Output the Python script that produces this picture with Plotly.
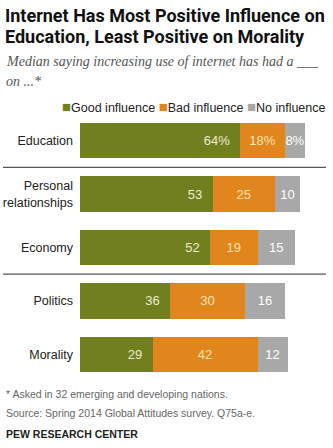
import plotly.graph_objects as go

categories = ["Education", "Personal<br>relationships", "Economy", "Politics", "Morality"]
good = [64, 53, 52, 36, 29]
bad = [18, 25, 19, 30, 42]
none_ = [8, 10, 15, 16, 12]
series_names = ["Good influence", "Bad influence", "No influence"]
colors = ["#727f1f", "#e0861c", "#a8a8a8"]
text_colors = ["#ecebcf", "#fde3b5", "#ffffff"]

W, H = 333, 448
ML, MR, MT, MB = 80, 3, 114, 67
PW, PH = W - ML - MR, H - MT - MB

def px2x(px):
    return (px - ML) / PW

def px2y(py):
    return (H - MB - py) / PH

def labels(vals, pad=""):
    return [(f"{v}%" if i == 0 else f"{v}") + pad for i, v in enumerate(vals)]

fig = go.Figure()
for name, vals, col, tcol, anchor, pad in zip(series_names, [good, bad, none_], colors, text_colors,
                                              ["end", "middle", "middle"], ["\u00a0\u00a0", "", ""]):
    fig.add_trace(go.Bar(
        y=categories, x=vals, name=name, orientation="h",
        marker=dict(color=col, line=dict(width=0)),
        text=labels(vals, pad), textposition="inside", insidetextanchor=anchor,
        constraintext="none",
        textfont=dict(family="Liberation Sans, Arial", size=13, color=tcol),
        textangle=0, hoverinfo="skip", cliponaxis=False,
    ))

shapes = []
for yv in [0.5, 2.5]:
    shapes.append(dict(type="line", xref="paper", yref="y", x0=px2x(3), x1=px2x(326),
                       y0=yv, y1=yv, line=dict(color="#555555", width=1.2)))

annotations = []
# title
for txt, py in [("Internet Has Most Positive Influence on", 15), ("Education, Least Positive on Morality", 37)]:
    annotations.append(dict(xref="paper", yref="paper", x=px2x(3), y=px2y(py), xanchor="left", yanchor="middle",
                            align="left", showarrow=False, text=f"<b>{txt}</b>",
                            font=dict(family="Roboto, Liberation Sans", size=18, color="#111111")))
for txt, py in [("Median saying increasing use of internet has had a ___", 62), ("on ...*", 82)]:
    annotations.append(dict(xref="paper", yref="paper", x=px2x(4), y=px2y(py), xanchor="left", yanchor="middle",
                            align="left", showarrow=False, text=f"<i>{txt}</i>",
                            font=dict(family="Liberation Serif", size=14, color="#555555")))
# legend
leg = " ".join(f"<span style='color:{c};font-size:15px'>■</span>{n}" for c, n in zip(colors, series_names))
annotations.append(dict(xref="paper", yref="paper", x=px2x(328), y=px2y(107), xanchor="right", yanchor="middle",
                        showarrow=False, text=leg,
                        font=dict(family="Liberation Sans, Arial", size=12.5, color="#222222")))
# footer
annotations.append(dict(xref="paper", yref="paper", x=px2x(4), y=px2y(394), xanchor="left", yanchor="middle",
                        showarrow=False, text="* Asked in 32 emerging and developing nations.",
                        font=dict(family="Liberation Sans, Arial", size=10.5, color="#666666")))
annotations.append(dict(xref="paper", yref="paper", x=px2x(4), y=px2y(413), xanchor="left", yanchor="middle",
                        showarrow=False, text="Source: Spring 2014 Global Attitudes survey. Q75a-e.",
                        font=dict(family="Liberation Sans, Arial", size=10.5, color="#666666")))
annotations.append(dict(xref="paper", yref="paper", x=px2x(4), y=px2y(434), xanchor="left", yanchor="middle",
                        showarrow=False, text="<b>PEW RESEARCH CENTER</b>",
                        font=dict(family="Liberation Sans, Arial", size=10.5, color="#222222")))

fig.update_layout(
    width=W, height=H, margin=dict(l=ML, r=MR, t=MT, b=MB),
    barmode="stack", bargap=0.34, showlegend=False,
    paper_bgcolor="white", plot_bgcolor="white",
    xaxis=dict(range=[0, 100], visible=False, fixedrange=True),
    yaxis=dict(autorange="reversed", showgrid=False, zeroline=False, showline=False, ticks="",
               ticklabelstandoff=6,
               tickfont=dict(family="Liberation Sans, Arial", size=12.5, color="#222222")),
    shapes=shapes, annotations=annotations,
)

fig.write_html("out.html")
